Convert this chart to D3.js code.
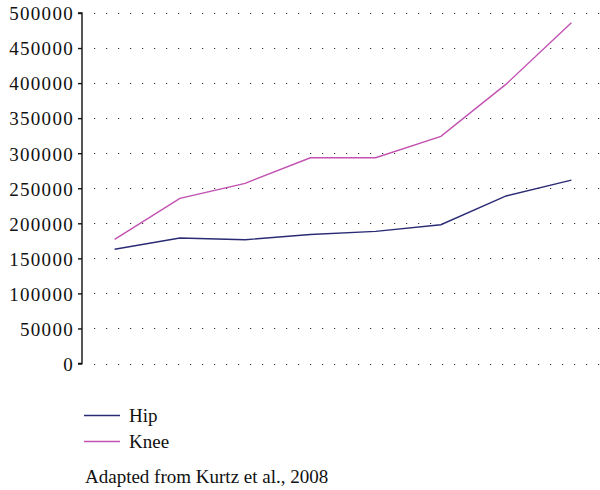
<!DOCTYPE html>
<html>
<head>
<meta charset="utf-8">
<script src="https://cdn.jsdelivr.net/npm/d3@7"></script>
<style>
  body { margin: 0; background: #fff; }
</style>
</head>
<body>
<div id="chart"></div>
<script>
var years = ["1", "2", "3", "4", "5", "6", "7", "8"];
var hipValues = [163000, 179000, 176500, 184000, 188500, 198000, 239000, 261500];
var kneeValues = [177000, 235500, 257000, 293500, 293500, 324000, 398500, 486000];
var yTicks = [0, 50000, 100000, 150000, 200000, 250000, 300000, 350000, 400000, 450000, 500000];

var series = [
    { name: "Hip", values: hipValues, color: "#2a2b74" },
    { name: "Knee", values: kneeValues, color: "#c251b2" }
];

var width = 600, height = 490;
var axisX = 82;
var serif = "'Liberation Serif', 'Times New Roman', serif";

var svg = d3.select("#chart").append("svg")
    .attr("width", width)
    .attr("height", height);

var x = d3.scalePoint().domain(years).range([axisX, 604]).padding(0.5);
var y = d3.scaleLinear().domain([0, 500000]).range([363.5, 13]);

// dotted grid
svg.append("g")
    .selectAll("line")
    .data(yTicks)
    .enter()
    .append("line")
    .attr("x1", 94)
    .attr("x2", 600)
    .attr("y1", function(d) { return Math.round(y(d)) + 0.5; })
    .attr("y2", function(d) { return Math.round(y(d)) + 0.5; })
    .attr("stroke", "#333")
    .attr("stroke-width", 1.2)
    .attr("stroke-dasharray", "1.2,10.8");

// y axis
var yAxis = d3.axisLeft(y).tickValues(yTicks).tickSize(4).tickPadding(4).tickFormat(d3.format("d"));
var gy = svg.append("g")
    .attr("transform", "translate(" + axisX + ",0)")
    .call(yAxis);
gy.select(".domain").attr("stroke", "#111").attr("stroke-width", 1.4).attr("d", "M-4," + y(500000) + "H0V" + (y(0)) + "H-4");
gy.selectAll(".tick line").attr("stroke", "#111").attr("stroke-width", 1.4);
gy.selectAll(".tick text")
    .style("font-family", serif)
    .style("font-size", "19px")
    .style("letter-spacing", "1.3px")
    .attr("fill", "#111")
    .attr("dy", "0.36em");

// lines
var line = d3.line()
    .x(function(d, i) { return x(years[i]); })
    .y(function(d) { return y(d); });

svg.append("g")
    .selectAll("path")
    .data(series)
    .enter()
    .append("path")
    .attr("d", function(s) { return line(s.values); })
    .attr("fill", "none")
    .attr("stroke", function(s) { return s.color; })
    .attr("stroke-width", 1.4);

// legend
var legend = svg.append("g")
    .selectAll("g")
    .data(series)
    .enter()
    .append("g")
    .attr("transform", function(d, i) { return "translate(84," + (415.5 + i * 26) + ")"; });

legend.append("line")
    .attr("x1", 0).attr("x2", 36)
    .attr("y1", 0).attr("y2", 0)
    .attr("stroke", function(d) { return d.color; })
    .attr("stroke-width", 1.4);

legend.append("text")
    .attr("x", 45)
    .attr("y", 6.5)
    .style("font-family", serif)
    .style("font-size", "19px")
    .attr("fill", "#111")
    .text(function(d) { return d.name; });

svg.append("text")
    .attr("x", 85)
    .attr("y", 483)
    .style("font-family", serif)
    .style("font-size", "19px")
    .attr("fill", "#111")
    .text("Adapted from Kurtz et al., 2008");
</script>
</body>
</html>
